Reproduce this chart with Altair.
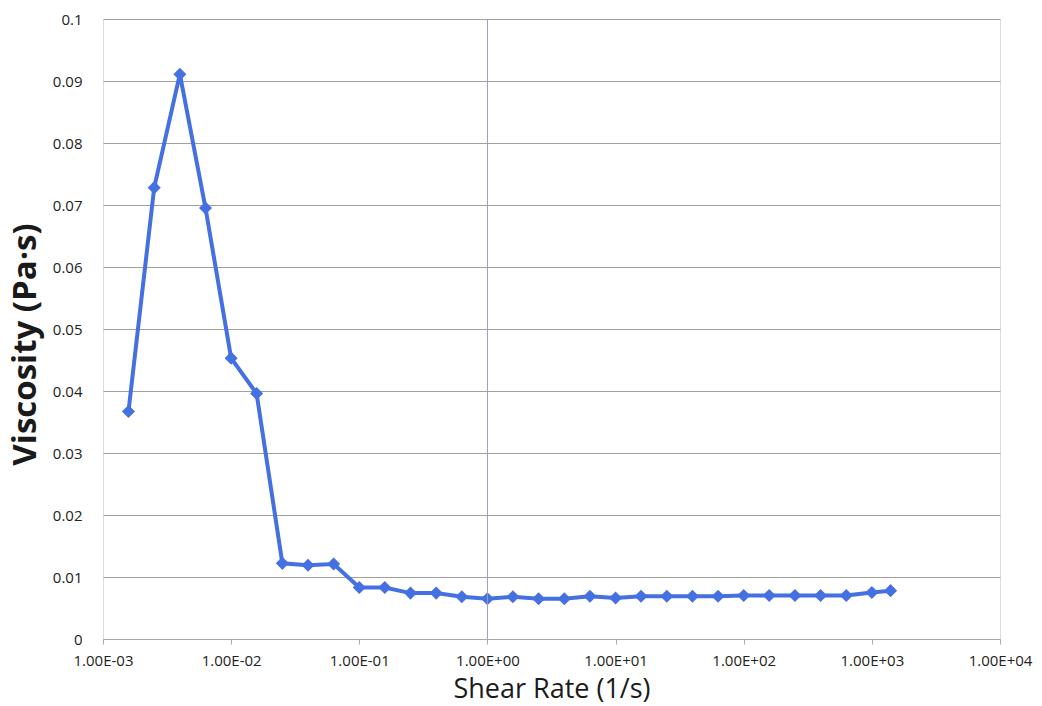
import altair as alt
import pandas as pd

shear_rate = [0.00158, 0.00251, 0.00398, 0.00631, 0.01, 0.0158, 0.0251, 0.0398, 0.0631,
              0.1, 0.158, 0.251, 0.398, 0.631, 1.0, 1.58, 2.51, 3.98, 6.31, 10.0, 15.8,
              25.1, 39.8, 63.1, 100.0, 158.0, 251.0, 398.0, 631.0, 1000.0, 1400.0]
viscosity = [0.0367, 0.0728, 0.0911, 0.0695, 0.0453, 0.0396, 0.0122, 0.0119, 0.0121,
             0.0083, 0.0083, 0.0074, 0.0074, 0.0068, 0.0065, 0.0068, 0.0065, 0.0065,
             0.0069, 0.0066, 0.0069, 0.0069, 0.0069, 0.0069, 0.0070, 0.0070, 0.0070,
             0.0070, 0.0070, 0.0075, 0.0078]
x_ticks = [0.001, 0.01, 0.1, 1, 10, 100, 1000, 10000]
y_ticks = [0, 0.01, 0.02, 0.03, 0.04, 0.05, 0.06, 0.07, 0.08, 0.09, 0.1]

df = pd.DataFrame({"shear": shear_rate, "visc": viscosity})
FONT = "Open Sans"
BLUE = "#4470E2"

x_enc = alt.X(
    "shear:Q",
    scale=alt.Scale(type="log", domain=[0.001, 10000], nice=False),
    axis=alt.Axis(
        values=x_ticks,
        labelExpr="'1.00E' + (round(log(datum.value)/LN10) < 0 ? '-' : '+') + (abs(round(log(datum.value)/LN10)) < 10 ? '0' : '') + abs(round(log(datum.value)/LN10))",
        grid=False,
        domainColor="#a8a8a8",
        tickColor="#a8a8a8",
        tickSize=5,
        labelPadding=9,
        labelFont=FONT,
        labelFontSize=15,
        labelColor="#222222",
        labelFlush=False,
        title="Shear Rate (1/s)",
        titleFont=FONT,
        titleFontSize=27,
        titleFontWeight="normal",
        titleColor="#1a1a1a",
        titleBaseline="alphabetic",
        titleY=58,
    ),
    title="Shear Rate (1/s)",
)
y_enc = alt.Y(
    "visc:Q",
    scale=alt.Scale(domain=[0, 0.1], nice=False),
    axis=alt.Axis(
        values=y_ticks,
        format="~g",
        grid=True,
        gridColor="#a0a0a0",
        gridWidth=1,
        domain=False,
        ticks=False,
        labelPadding=21,
        labelFont=FONT,
        labelFontSize=15,
        labelColor="#222222",
        title="Viscosity (Pa·s)",
        titleFont=FONT,
        titleFontSize=33,
        titleFontWeight="bold",
        titleColor="#1a1a1a",
        titleBaseline="middle",
        titleX=-78,
        titleY=325,
    ),
)

vline = alt.Chart(pd.DataFrame({"x": [1.0]})).mark_rule(color="#9a9ac0", strokeWidth=1).encode(
    x=alt.X("x:Q", scale=alt.Scale(type="log", domain=[0.001, 10000], nice=False)),
    y=alt.value(0),
    y2=alt.value(620),
)

line = alt.Chart(df).mark_line(
    color=BLUE, strokeWidth=4,
    point=alt.OverlayMarkDef(shape="diamond", size=170, color=BLUE, filled=True),
).encode(x=x_enc, y=y_enc)

chart = alt.layer(line, vline).properties(
    width=897, height=620,
    autosize=alt.AutoSizeParams(type="none"),
    padding={"left": 103, "top": 19, "right": 42, "bottom": 67},
).configure_view(stroke=None).configure(background="white")

chart.save("out.html", embed_options={"renderer": "svg", "actions": False})
